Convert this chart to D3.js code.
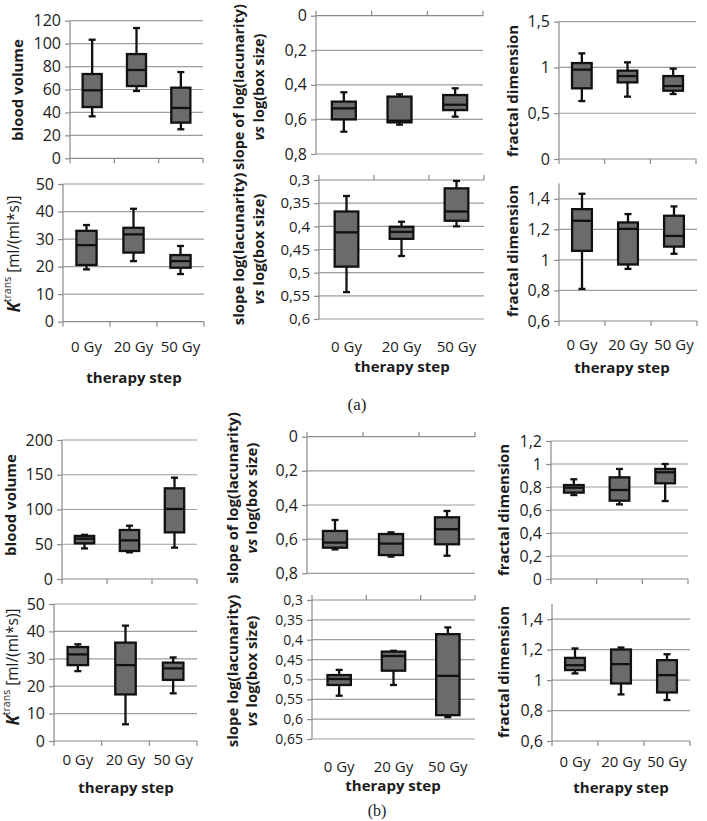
<!DOCTYPE html>
<html><head><meta charset="utf-8">
<script src="https://cdn.jsdelivr.net/npm/d3@7"></script>
<style>body{margin:0;background:#fff}</style>
</head><body><svg id="c" width="707" height="821"></svg>
<script>
const categories = ["0 Gy", "20 Gy", "50 Gy"];
// box statistics per category: [min, q1, median, q3, max]
const bloodVolumeA = [[36.6, 44.7, 59.3, 73.5, 103.4], [58.7, 63, 77, 90.9, 113.6], [25.3, 31.1, 43.9, 61.6, 75.2]];
const slopeOfLacA = [[0.443, 0.497, 0.536, 0.600, 0.671], [0.455, 0.468, 0.607, 0.617, 0.630], [0.420, 0.459, 0.515, 0.546, 0.584]];
const fractalTopA = [[0.633, 0.772, 0.976, 1.048, 1.154], [0.681, 0.837, 0.906, 0.965, 1.056], [0.710, 0.746, 0.797, 0.906, 0.987]];
const ktransA = [[19.0, 20.6, 27.8, 33.0, 35.1], [22.0, 25.1, 31.7, 34.1, 41.0], [17.3, 19.6, 22.0, 24.2, 27.5]];
const slopeLacA = [[0.3345, 0.368, 0.413, 0.487, 0.542], [0.390, 0.401, 0.412, 0.427, 0.464], [0.302, 0.318, 0.368, 0.388, 0.400]];
const fractalBotA = [[0.81, 1.059, 1.256, 1.332, 1.433], [0.941, 0.970, 1.203, 1.245, 1.300], [1.040, 1.087, 1.157, 1.289, 1.350]];

const bloodVolumeB = [[44, 51.3, 58, 62, 63.5], [38.4, 40.3, 55.6, 70.5, 76.7], [45.1, 67.1, 100.7, 130.5, 145.8]];
const slopeOfLacB = [[0.488, 0.552, 0.620, 0.650, 0.660], [0.560, 0.570, 0.626, 0.693, 0.702], [0.435, 0.472, 0.542, 0.630, 0.697]];
const fractalTopB = [[0.730, 0.751, 0.794, 0.817, 0.867], [0.649, 0.681, 0.774, 0.884, 0.957], [0.678, 0.832, 0.928, 0.957, 1.000]];
const ktransB = [[25.5, 27.7, 31.6, 34.3, 35.3], [6.1, 17.0, 27.7, 35.9, 42.1], [17.4, 22.3, 26.5, 28.6, 30.5]];
const slopeLacB = [[0.476, 0.489, 0.499, 0.514, 0.541], [0.428, 0.430, 0.441, 0.478, 0.514], [0.369, 0.386, 0.491, 0.590, 0.595]];
const fractalBotB = [[1.044, 1.066, 1.098, 1.146, 1.208], [0.906, 0.978, 1.105, 1.201, 1.214], [0.869, 0.919, 1.033, 1.131, 1.170]];

// tick values
const ticksBloodA = [0, 20, 40, 60, 80, 100, 120];
const ticksBloodB = [0, 50, 100, 150, 200];
const ticksSlopeOf = [0, 0.2, 0.4, 0.6, 0.8];
const ticksFractalA = [0, 0.5, 1, 1.5];
const ticksFractalB = [0, 0.2, 0.4, 0.6, 0.8, 1, 1.2];
const ticksKtrans = [0, 10, 20, 30, 40, 50];
const ticksSlopeA = [0.3, 0.35, 0.4, 0.45, 0.5, 0.55, 0.6];
const ticksSlopeB = [0.3, 0.35, 0.4, 0.45, 0.5, 0.55, 0.6, 0.65];
const ticksFractal2 = [0.6, 0.8, 1, 1.2, 1.4];

const T_BLOOD = [["blood volume"]];
const T_SLOPEOF = [["slope of log(lacunarity)"], ["vs", " log(box size)"]];
const T_SLOPE = [["slope log(lacunarity)"], ["vs", " log(box size)"]];
const T_FRACT = [["fractal dimension"]];

// layout (pixel geometry only)
const panels = [
  {d: bloodVolumeA, t: ticksBloodA, dom: [0, 120], rev: false, l: 70, r: 203, top: 20.7, bot: 158.3, title: T_BLOOD, tx: [17], ty: 90, fs: 16, tf: 15},
  {d: slopeOfLacA, t: ticksSlopeOf, dom: [0, 0.8], rev: true, l: 316, r: 483, top: 15.7, bot: 154, title: T_SLOPEOF, tx: [238, 258], ty: 87, fs: 16, tf: 14.5},
  {d: fractalTopA, t: ticksFractalA, dom: [0, 1.5], rev: false, l: 559, r: 696, top: 21.7, bot: 159, title: T_FRACT, tx: [512], ty: 91, fs: 16, tf: 15},
  {d: ktransA, t: ticksKtrans, dom: [0, 50], rev: false, l: 63, r: 204, top: 184, bot: 321.7, title: "K", tx: [13], ty: 254, cy: 347, sy: 378, sx: 134, fs: 16, tf: 15},
  {d: slopeLacA, t: ticksSlopeA, dom: [0.3, 0.6], rev: true, l: 319, r: 484, top: 180, bot: 319, title: T_SLOPE, tx: [238, 258], ty: 249, cy: 347, sy: 367, sx: 402, fs: 15, tf: 15},
  {d: fractalBotA, t: ticksFractal2, dom: [0.6, 1.5], rev: false, l: 559, r: 697, top: 183.5, bot: 321, title: T_FRACT, tx: [512], ty: 251, cy: 345, sy: 368, sx: 622, fs: 16, tf: 15},
  {d: bloodVolumeB, t: ticksBloodB, dom: [0, 200], rev: false, l: 62, r: 197, top: 440, bot: 579, title: T_BLOOD, tx: [10], ty: 505, fs: 16, tf: 15},
  {d: slopeOfLacB, t: ticksSlopeOf, dom: [0, 0.8], rev: true, l: 307, r: 475, top: 436.7, bot: 573.3, title: T_SLOPEOF, tx: [232, 251], ty: 498, fs: 16, tf: 15},
  {d: fractalTopB, t: ticksFractalB, dom: [0, 1.2], rev: false, l: 551, r: 688, top: 441, bot: 579, title: T_FRACT, tx: [503], ty: 510, fs: 16, tf: 15},
  {d: ktransB, t: ticksKtrans, dom: [0, 50], rev: false, l: 54, r: 197, top: 604, bot: 741, title: "K", tx: [12], ty: 667, cy: 760, sy: 788, sx: 126, fs: 16, tf: 15},
  {d: slopeLacB, t: ticksSlopeB, dom: [0.3, 0.65], rev: true, l: 312, r: 475, top: 600, bot: 739, title: T_SLOPE, tx: [232, 251], ty: 671, cy: 767, sy: 786, sx: 393, fs: 14, tf: 15},
  {d: fractalBotB, t: ticksFractal2, dom: [0.6, 1.5], rev: false, l: 552, r: 690, top: 604, bot: 741, title: T_FRACT, tx: [503], ty: 672, cy: 762, sy: 788, sx: 621, fs: 16, tf: 15}
];

const svg = d3.select("#c");
const FONT = "'Open Sans', 'DejaVu Sans', sans-serif";
const GRID = "#9c9c9c", AXIS = "#8a8a8a", TXT = "#1c1c1c";
const fmt = v => String(v).replace(".", ",");

panels.forEach(p => {
  const g = svg.append("g");
  const y = d3.scaleLinear().domain(p.dom).range(p.rev ? [p.top, p.bot] : [p.bot, p.top]);
  const x = d3.scaleBand().domain(categories).range([p.l, p.r]);
  const axisVal = p.dom[0];
  // gridlines
  g.selectAll(".grid").data(p.t.filter(v => v !== axisVal)).join("line")
    .attr("x1", p.l).attr("x2", p.r).attr("y1", d => y(d)).attr("y2", d => y(d))
    .attr("stroke", GRID).attr("stroke-width", 1.2);
  // y axis
  const ya = d3.axisLeft(y).tickValues(p.t).tickSizeInner(5).tickSizeOuter(0).tickPadding(4).tickFormat(fmt);
  const yg = g.append("g").attr("transform", `translate(${p.l},0)`).call(ya);
  yg.select(".domain").remove();
  yg.selectAll(".tick line").attr("stroke", AXIS).attr("stroke-width", 1.2);
  yg.selectAll(".tick text").attr("font-family", FONT).attr("font-size", p.fs).attr("fill", TXT);
  g.append("line").attr("x1", p.l).attr("x2", p.l).attr("y1", p.top).attr("y2", p.bot)
    .attr("stroke", AXIS).attr("stroke-width", 1.2);
  // category axis
  const cy = y(axisVal);
  g.append("line").attr("x1", p.l).attr("x2", p.r).attr("y1", cy).attr("y2", cy)
    .attr("stroke", AXIS).attr("stroke-width", 1.2);
  const bounds = categories.map(c => x(c)).concat([p.r]);
  const dir = p.rev ? -5 : 5;
  g.selectAll(".ct").data(bounds).join("line")
    .attr("x1", d => d).attr("x2", d => d).attr("y1", cy).attr("y2", cy + dir)
    .attr("stroke", AXIS).attr("stroke-width", 1.2);
  // boxes
  const bw = x.bandwidth() * 0.43, cap = 7;
  p.d.forEach((s, i) => {
    const cx = x(categories[i]) + x.bandwidth() / 2;
    const [mn, q1, md, q3, mx] = s;
    const bg = g.append("g").attr("stroke", "#111").attr("stroke-width", 2.3);
    bg.append("line").attr("x1", cx).attr("x2", cx).attr("y1", y(mn)).attr("y2", y(mx));
    bg.append("line").attr("x1", cx - cap / 2).attr("x2", cx + cap / 2).attr("y1", y(mn)).attr("y2", y(mn));
    bg.append("line").attr("x1", cx - cap / 2).attr("x2", cx + cap / 2).attr("y1", y(mx)).attr("y2", y(mx));
    const ya1 = Math.min(y(q1), y(q3)), ya2 = Math.max(y(q1), y(q3));
    bg.append("rect").attr("x", cx - bw / 2).attr("y", ya1).attr("width", bw).attr("height", ya2 - ya1)
      .attr("fill", "#6b6b6b");
    bg.append("line").attr("x1", cx - bw / 2).attr("x2", cx + bw / 2).attr("y1", y(md)).attr("y2", y(md));
  });
  // category labels
  if (p.cy) {
    g.selectAll(".cl").data(categories).join("text")
      .attr("x", d => x(d) + x.bandwidth() / 2).attr("y", p.cy).attr("dy", "0.35em")
      .attr("text-anchor", "middle").attr("font-family", FONT).attr("font-size", 15).attr("fill", TXT)
      .text(d => d);
    g.append("text").attr("x", p.sx).attr("y", p.sy).attr("dy", "0.35em").attr("text-anchor", "middle")
      .attr("font-family", FONT).attr("font-size", 15).attr("font-weight", "bold").attr("fill", TXT)
      .text("therapy step");
  }
  // axis title
  if (p.title === "K") {
    const t = g.append("text").attr("transform", `translate(${p.tx[0]},${p.ty}) rotate(-90)`)
      .attr("text-anchor", "middle").attr("dominant-baseline", "central")
      .attr("font-family", FONT).attr("fill", TXT);
    t.append("tspan").attr("font-size", 17).attr("font-weight", "bold").attr("font-style", "italic").text("K");
    t.append("tspan").attr("font-size", 10.5).attr("dy", -6).text("trans");
    t.append("tspan").attr("font-size", 15.5).attr("dy", 6).text(" [ml/(ml*s)]");
  } else {
    p.title.forEach((line, li) => {
      const t = g.append("text").attr("transform", `translate(${p.tx[li]},${p.ty}) rotate(-90)`)
        .attr("text-anchor", "middle").attr("dominant-baseline", "central")
        .attr("font-family", FONT).attr("font-size", p.tf).attr("font-weight", "bold").attr("fill", TXT);
      if (line.length === 2) {
        t.append("tspan").attr("font-style", "italic").text(line[0]);
        t.append("tspan").text(line[1]);
      } else t.text(line[0]);
    });
  }
});

svg.append("text").attr("x", 357).attr("y", 404).attr("dy", "0.35em").attr("text-anchor", "middle")
  .attr("font-family", "'Liberation Serif', serif").attr("font-size", 17).attr("fill", TXT).text("(a)");
svg.append("text").attr("x", 377).attr("y", 810).attr("dy", "0.35em").attr("text-anchor", "middle")
  .attr("font-family", "'Liberation Serif', serif").attr("font-size", 16).attr("fill", TXT).text("(b)");
</script></body></html>
